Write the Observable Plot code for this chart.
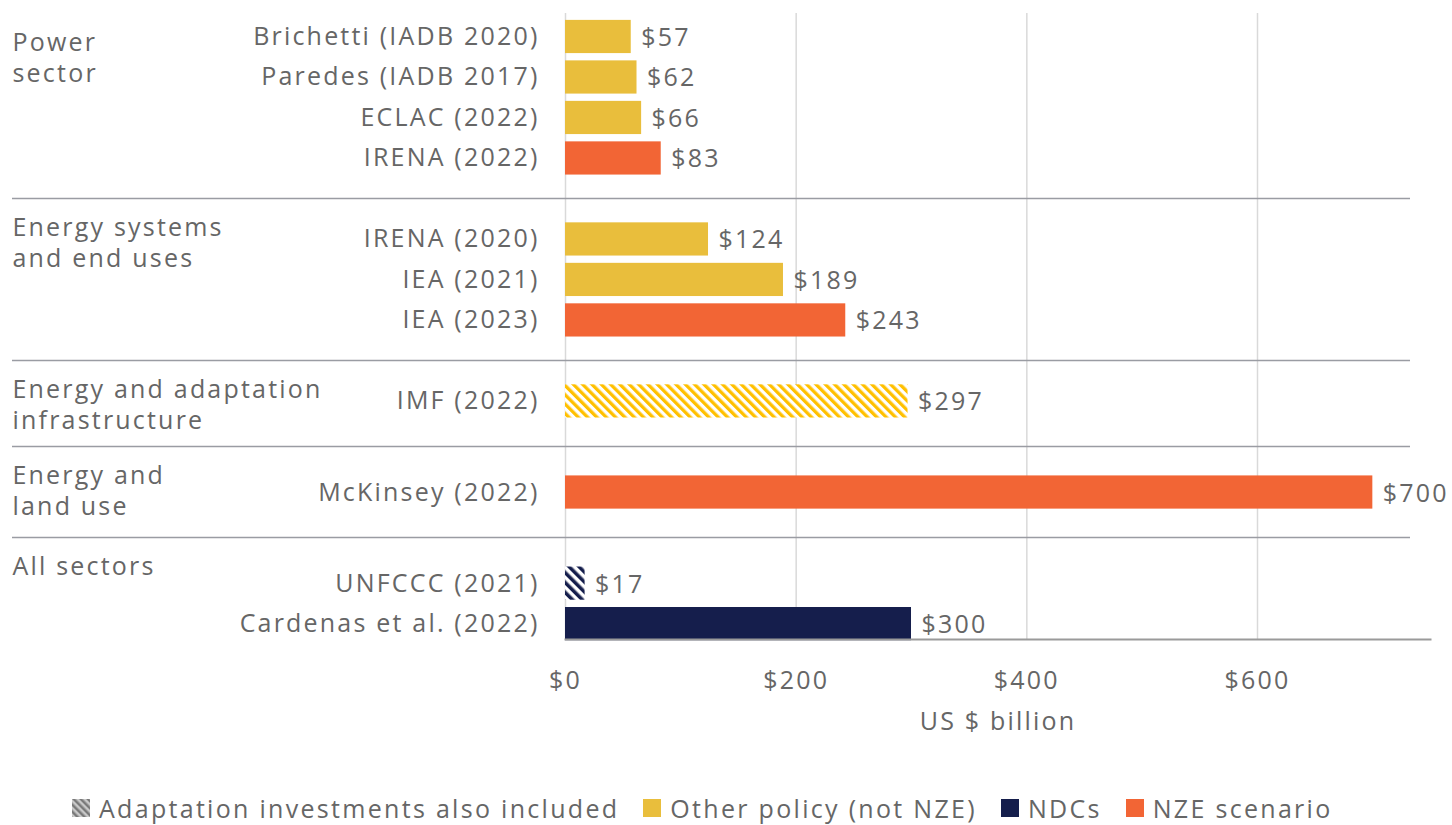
<!DOCTYPE html>
<html>
<head>
<meta charset="utf-8">
<script src="https://cdn.jsdelivr.net/npm/d3@7"></script>
<script src="https://cdn.jsdelivr.net/npm/@observablehq/plot@0.6"></script>
<style>
  body { margin: 0; background: #fff; font-family: "Open Sans", sans-serif; }
  #legend { display: flex; align-items: center; margin-top: 31px; padding-left: 72px; font-size: 25px; color: #666; letter-spacing: 2.3px; }
  #legend .item { display: flex; align-items: center; margin-right: 24px; }
  #legend .sw { width: 18px; height: 18px; margin-right: 9px; }
</style>
</head>
<body>
<div id="chart"></div>
<div id="legend"></div>
<script>
// ---- data ----
const sources = ["Brichetti (IADB 2020)", "Paredes (IADB 2017)", "ECLAC (2022)", "IRENA (2022)",
  "IRENA (2020)", "IEA (2021)", "IEA (2023)", "IMF (2022)", "McKinsey (2022)",
  "UNFCCC (2021)", "Cardenas et al. (2022)"];
const values = [57, 62, 66, 83, 124, 189, 243, 297, 700, 17, 300];
const types = ["Other policy (not NZE)", "Other policy (not NZE)", "Other policy (not NZE)", "NZE scenario",
  "Other policy (not NZE)", "Other policy (not NZE)", "NZE scenario", "Other policy (not NZE)", "NZE scenario",
  "NDCs", "NDCs"];
const adaptation = [false, false, false, false, false, false, false, true, false, true, false];
const groupNames = ["Power\nsector", "Energy systems\nand end uses", "Energy and adaptation\ninfrastructure",
  "Energy and\nland use", "All sectors"];
const groupOf = [0, 0, 0, 0, 1, 1, 1, 2, 3, 4, 4];
const xTicks = [0, 200, 400, 600];
const legendLabels = ["Adaptation investments also included", "Other policy (not NZE)", "NDCs", "NZE scenario"];

// ---- styling / layout ----
const colors = {"Other policy (not NZE)": "#E9BE3C", "NZE scenario": "#F26535", "NDCs": "#151E4C"};
const hatchColors = {"Other policy (not NZE)": "#FFC000", "NDCs": "#151E4C"};
const groupGap = [2, 2, 2.25, 2.25];
const barHalf = 0.41;
const textColor = "#666";

// row positions derived from group structure
const pos = [];
let p = 0;
sources.forEach((s, i) => {
  if (i > 0) p += groupOf[i] !== groupOf[i - 1] ? groupGap[groupOf[i] - 1] : 1;
  pos.push(p);
});
const yTop = -0.58, yBottom = 14.88;
const separators = [];
for (let i = 1; i < sources.length; i++) if (groupOf[i] !== groupOf[i - 1]) separators.push((pos[i] + pos[i - 1]) / 2);
const groupTops = [yTop, ...separators];

const rows = sources.map((s, i) => ({
  source: s, value: values[i], type: types[i], adapt: adaptation[i], pos: pos[i],
  fill: adaptation[i] ? (types[i] === "NDCs" ? "url(#hatchNavy)" : "url(#hatchYellow)") : colors[types[i]]
}));
const groups = groupNames.map((g, i) => ({name: g, y: groupTops[i] + 0.37}));

const plot = Plot.plot({
  width: 1452,
  height: 760,
  marginLeft: 565,
  marginRight: 22,
  marginTop: 13,
  marginBottom: 121,
  style: {fontFamily: "'Open Sans', sans-serif", fontSize: "25px", color: textColor, overflow: "visible", letterSpacing: "2.2px"},
  x: {domain: [0, 750]},
  y: {domain: [yTop, yBottom], reverse: true, axis: null},
  marks: [
    Plot.gridX(xTicks, {stroke: "#d9d9d9", strokeOpacity: 1, strokeWidth: 1.5}),
    Plot.rectX(rows, {x1: 0, x2: "value", y1: d => d.pos - barHalf, y2: d => d.pos + barHalf, fill: "fill"}),
    Plot.frame({anchor: "bottom", stroke: "#9a9a9a", strokeWidth: 2}),
    Plot.text(rows, {x: "value", y: "pos", text: d => "$" + d.value, textAnchor: "start", dx: 10, dy: 1, fill: textColor, fontSize: 25}),
    Plot.text(rows, {x: 0, y: "pos", text: "source", textAnchor: "end", dx: -26, fill: textColor, fontSize: 25}),
    Plot.text(groups, {x: 0, y: "y", text: "name", textAnchor: "start", lineAnchor: "top", lineHeight: 1.25, dx: -553, fill: textColor, fontSize: 25}),
    Plot.axisX({ticks: xTicks, tickFormat: d => "$" + d, tickSize: 0, tickPadding: 32, fill: textColor,
      label: "US $ billion", labelAnchor: "center", labelArrow: "none", labelOffset: 90, fontSize: 25})
  ]
});

const svg = d3.select(plot);
const defs = svg.insert("defs", ":first-child");
function hatch(id, color, size) {
  const pat = defs.append("pattern").attr("id", id).attr("patternUnits", "userSpaceOnUse")
    .attr("width", size).attr("height", size).attr("patternTransform", "rotate(-45)");
  pat.append("rect").attr("width", size).attr("height", size).attr("fill", "#fff");
  pat.append("rect").attr("width", size / 2).attr("height", size).attr("fill", color);
}
hatch("hatchYellow", hatchColors["Other policy (not NZE)"], 6.6);
hatch("hatchNavy", hatchColors["NDCs"], 7);

const ys = plot.scale("y");
svg.append("g").selectAll("line").data(separators).join("line")
  .attr("x1", 12).attr("x2", 1410)
  .attr("y1", d => ys.apply(d)).attr("y2", d => ys.apply(d))
  .attr("stroke", "#9a9ca3").attr("stroke-width", 1.5);

document.getElementById("chart").appendChild(plot);

// legend
const legend = d3.select("#legend");
const swatchFills = ["url(#hatchGray)", colors["Other policy (not NZE)"], colors["NDCs"], colors["NZE scenario"]];
legendLabels.forEach((lab, i) => {
  const item = legend.append("div").attr("class", "item");
  const sw = item.append("svg").attr("class", "sw").attr("viewBox", "0 0 18 18");
  if (i === 0) {
    const pat = sw.append("defs").append("pattern").attr("id", "hatchGray").attr("patternUnits", "userSpaceOnUse")
      .attr("width", 5).attr("height", 5).attr("patternTransform", "rotate(-45)");
    pat.append("rect").attr("width", 5).attr("height", 5).attr("fill", "#c8c8c8");
    pat.append("rect").attr("width", 2.5).attr("height", 5).attr("fill", "#7a7a7a");
  }
  sw.append("rect").attr("width", 18).attr("height", 18).attr("fill", swatchFills[i]);
  item.append("span").text(lab);
});
</script>
</body>
</html>
